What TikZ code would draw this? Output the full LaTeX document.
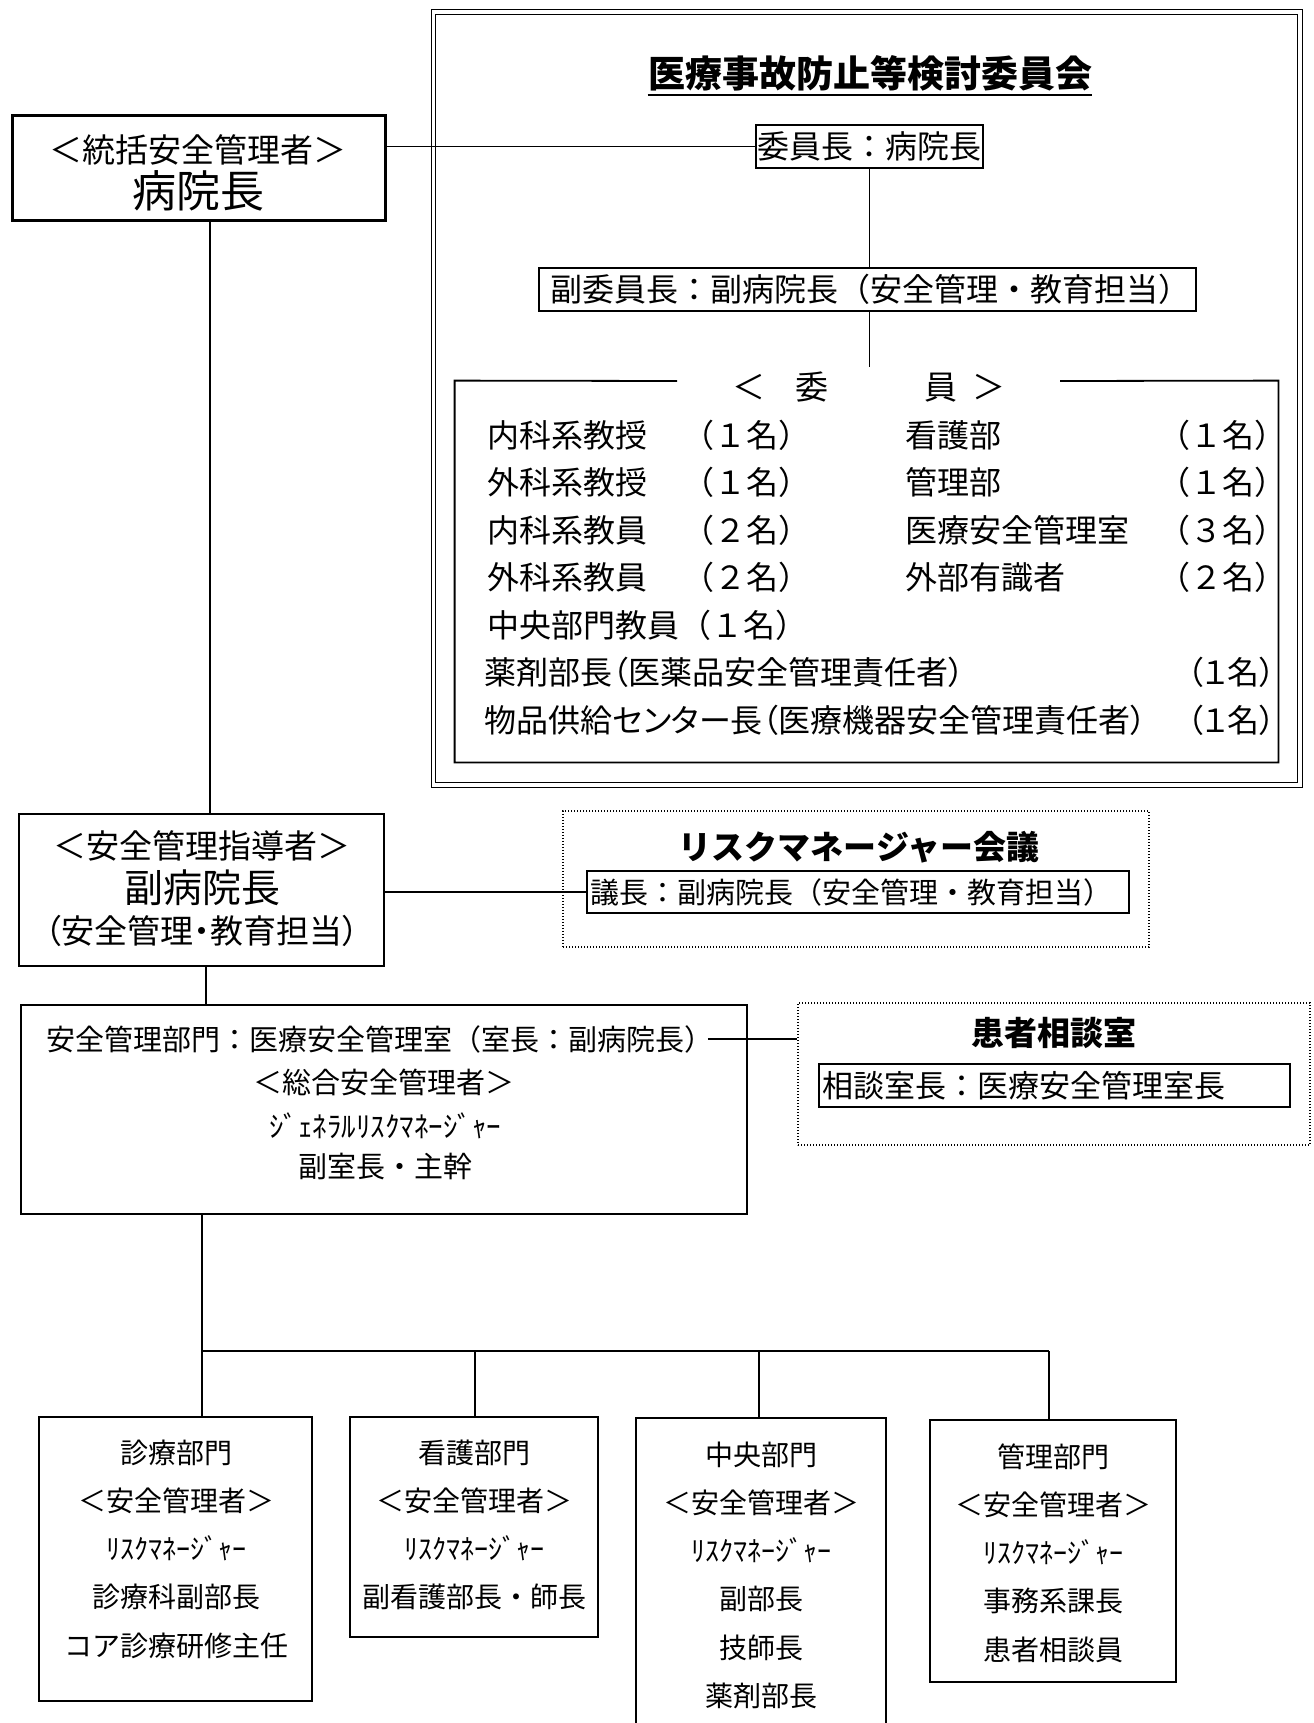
\documentclass[tikz,border=0pt]{standalone}
\usepackage{fontspec}
\setmainfont{Noto Sans CJK JP}
\newfontfamily\jpp{Noto Sans CJK JP}[RawFeature=+palt]
\usetikzlibrary{fit}
\newcommand\fsz[1]{\fontsize{#1}{#1}\selectfont}
\begin{document}
\begin{tikzpicture}[x=0.5pt,y=-0.5pt,
  frame/.style={draw, line width=0.9pt, inner sep=0pt},
  thickframe/.style={draw, line width=1.5pt, inner sep=0pt},
  dotframe/.style={draw, line width=0.9pt, dash pattern=on 0.7pt off 0.8pt, inner sep=0pt},
  dblframe/.style={draw, line width=0.6pt, double, double distance=1.6pt, inner sep=0pt},
  area/.style={inner sep=0pt},
  t16/.style={inner sep=0pt, font=\fsz{16}},
  t15/.style={inner sep=0pt, font=\fsz{14.5}},
  t14/.style={inner sep=0pt, font=\fsz{14}},
  head/.style={inner sep=0pt, font=\fsz{16.5}\bfseries},
  conn/.style={line width=0.65pt}
]
\useasboundingbox (0,0) rectangle (1313,1723);
\fill[white] (0,0) rectangle (1313,1723);

% ---------- committee frame ----------
\node[dblframe, fit={(433.5,12) (1300,785)}] (comm) {};
\node[inner sep=0pt, font=\fsz{18.5}\bfseries] (ctitle) at (870,73) {医療事故防止等検討委員会};
\draw[line width=1pt] ([yshift=-2pt]ctitle.south west) -- ([yshift=-2pt]ctitle.south east);
\node[frame, fit={(756,125) (983,168)}] (chair) {};
\node[t16] (chairtext) at (869.5,146.5) {委員長：病院長};
\node[frame, fit={(539,268) (1196,311)}] (vice) {};
\node[t16] (vicetext) at (870,289.5) {副委員長：副病院長（安全管理・教育担当）};
\coordinate (memtop) at (869.5,367);

% members box with gap in top border
\node[area, fit={(455,381) (1278,762)}] (mem) {};
\coordinate (gapL) at (677,381);
\coordinate (gapR) at (1060,381);
\draw[line width=0.9pt] (gapL) -- (mem.north west) -- (mem.south west) -- (mem.south east) -- (mem.north east) -- (gapR);
\node[inner sep=0pt, font=\fsz{16.5}] (memtitle) at (869,387) {＜\hspace{15pt}委\hspace{48pt}員\hspace{7.5pt}＞};

\node[t16, anchor=west] (m1a) at (487,435) {内科系教授};
\node[t16, anchor=west] (m1b) at (682,435) {（１名）};
\node[t16, anchor=west] (m1c) at (905,435) {看護部};
\node[t16, anchor=west] (m1d) at (1158,435) {（１名）};
\node[t16, anchor=west] (m2a) at (487,482) {外科系教授};
\node[t16, anchor=west] (m2b) at (682,482) {（１名）};
\node[t16, anchor=west] (m2c) at (905,482) {管理部};
\node[t16, anchor=west] (m2d) at (1158,482) {（１名）};
\node[t16, anchor=west] (m3a) at (487,530) {内科系教員};
\node[t16, anchor=west] (m3b) at (682,530) {（２名）};
\node[t16, anchor=west] (m3c) at (905,530) {医療安全管理室};
\node[t16, anchor=west] (m3d) at (1158,530) {（３名）};
\node[t16, anchor=west] (m4a) at (487,577) {外科系教員};
\node[t16, anchor=west] (m4b) at (682,577) {（２名）};
\node[t16, anchor=west] (m4c) at (905,577) {外部有識者};
\node[t16, anchor=west] (m4d) at (1158,577) {（２名）};
\node[t16, anchor=west] (m5a) at (487,625) {中央部門教員（１名）};
\node[t16, anchor=west] (m6a) at (484,672) {\jpp 薬剤部長（医薬品安全管理責任者）};
\node[t16, anchor=east] (m6b) at (1276,672) {\jpp （１名）};
\node[t16, anchor=west] (m7a) at (484,720) {\jpp 物品供給センター長（医療機器安全管理責任者）};
\node[t16, anchor=east] (m7b) at (1276,720) {\jpp （１名）};

% ---------- left column ----------
\node[thickframe, fit={(12,116) (385,220)}] (hosp) {};
\node[inner sep=0pt, font=\fsz{16.5}] (hosp1) at (198,150) {＜統括安全管理者＞};
\node[inner sep=0pt, font=\fsz{22}] (hosp2) at (198,191) {病院長};

\node[frame, fit={(19,814) (384,966)}] (dep) {};
\node[inner sep=0pt, font=\fsz{16.5}] (dep1) at (202,846) {＜安全管理指導者＞};
\node[inner sep=0pt, font=\fsz{19.5}] (dep2) at (202,888) {副病院長};
\node[inner sep=0pt, font=\fsz{16.5}] (dep3) at (202,931) {\jpp （安全管理・教育担当）};

% risk manager meeting
\node[dotframe, fit={(563,811) (1149,947)}] (rm) {};
\node[head] (rmtitle) at (859,847) {リスクマネージャー会議};
\node[frame, fit={(587,871) (1129,913)}] (rmchair) {};
\node[t15, anchor=west] (rmtext) at (590,892) {議長：副病院長（安全管理・教育担当）};

% safety management section
\node[frame, fit={(21,1005) (747,1214)}] (sec) {};
\node[t15] (sec1) at (380,1039) {安全管理部門：医療安全管理室（室長：副病院長）};
\node[t15] (sec2) at (384,1082) {＜総合安全管理者＞};
\node[t15] (sec3) at (385,1126) {ｼﾞｪﾈﾗﾙﾘｽｸﾏﾈｰｼﾞｬｰ};
\node[t15] (sec4) at (385,1167) {副室長・主幹};

% patient consultation
\node[dotframe, fit={(798,1003) (1310,1145)}] (pat) {};
\node[head] (pattitle) at (1054,1033) {患者相談室};
\node[frame, fit={(819,1064) (1290,1107)}] (patchief) {};
\node[inner sep=0pt, font=\fsz{15.5}, anchor=west] (pattext) at (822,1086) {相談室長：医療安全管理室長};

% ---------- bottom boxes ----------
\node[frame, fit={(39,1417) (312,1701)}] (b1) {};
\node[frame, fit={(350,1417) (598,1637)}] (b2) {};
\node[frame, fit={(636,1418) (886,1760)}] (b3) {};
\node[frame, fit={(930,1420) (1176,1682)}] (b4) {};

\node[t14] (b1a) at (176,1453) {診療部門};
\node[t14] (b1b) at (176,1501) {＜安全管理者＞};
\node[t14] (b1c) at (176,1548) {ﾘｽｸﾏﾈｰｼﾞｬｰ};
\node[t14] (b1d) at (176,1597) {診療科副部長};
\node[t14] (b1e) at (176,1646) {コア診療研修主任};

\node[t14] (b2a) at (474,1453) {看護部門};
\node[t14] (b2b) at (474,1501) {＜安全管理者＞};
\node[t14] (b2c) at (474,1548) {ﾘｽｸﾏﾈｰｼﾞｬｰ};
\node[t14] (b2d) at (474,1597) {副看護部長・師長};

\node[t14] (b3a) at (761,1455) {中央部門};
\node[t14] (b3b) at (761,1503) {＜安全管理者＞};
\node[t14] (b3c) at (761,1550) {ﾘｽｸﾏﾈｰｼﾞｬｰ};
\node[t14] (b3d) at (761,1599) {副部長};
\node[t14] (b3e) at (761,1648) {技師長};
\node[t14] (b3f) at (761,1696) {薬剤部長};

\node[t14] (b4a) at (1053,1457) {管理部門};
\node[t14] (b4b) at (1053,1505) {＜安全管理者＞};
\node[t14] (b4c) at (1053,1552) {ﾘｽｸﾏﾈｰｼﾞｬｰ};
\node[t14] (b4d) at (1053,1601) {事務系課長};
\node[t14] (b4e) at (1053,1650) {患者相談員};

% ---------- connectors ----------
\coordinate (v1) at (210,500);
\coordinate (v2) at (206,990);
\coordinate (j) at (202,1351);
\coordinate (d2) at (475,1351);
\coordinate (d3) at (759,1351);
\coordinate (d4) at (1049,1351);

\draw[conn] (chair.west -| hosp.east) -- (chair.west);
\draw[conn] (chair.south) -- (chair.south |- vice.north);
\draw[conn] (vice.south -| memtop) -- (memtop);
\draw[conn] (v1 |- hosp.south) -- (v1 |- dep.north);
\draw[conn] (rmchair.west -| dep.east) -- (rmchair.west);
\draw[conn] (v2 |- dep.south) -- (v2 |- sec.north);
\draw[conn] ([xshift=-3pt]sec1.east) -- (sec1.east -| pat.west);
\draw[conn] (j |- sec.south) -- (j) -- (d4);
\draw[conn] (j) -- (j |- b1.north);
\draw[conn] (d2) -- (d2 |- b2.north);
\draw[conn] (d3) -- (d3 |- b3.north);
\draw[conn] (d4) -- (d4 |- b4.north);
\end{tikzpicture}
\end{document}
